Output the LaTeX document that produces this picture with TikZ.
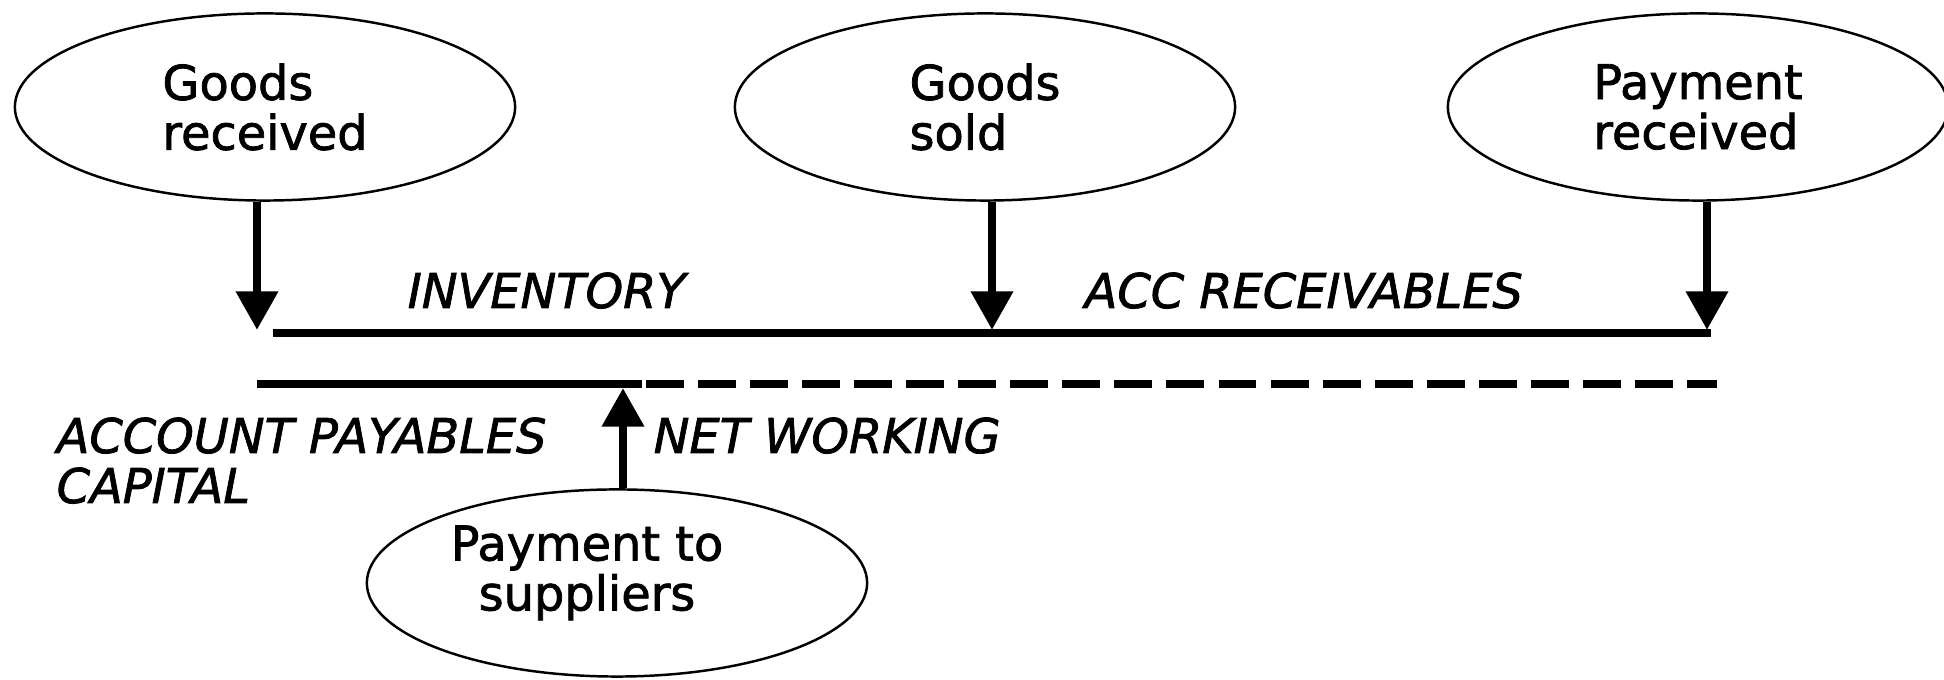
\documentclass[tikz,border=0pt]{standalone}
\usepackage{fontspec}
\setmainfont{DejaVu Sans}[FakeBold=1.6]
\usetikzlibrary{arrows.meta,shapes.geometric}

\begin{document}
\begin{tikzpicture}[x=0.01cm,y=-0.01cm,
  font=\fontsize{13.6}{14.2}\selectfont,
  evt/.style={draw,ellipse,line width=.7pt,minimum width=5cm,minimum height=1.87cm,inner sep=0pt,align=left},
  flow/.style={line width=2.5pt,-{Triangle[length=11pt,width=11.5pt]}},
  acct/.style={font=\fontsize{13.6}{14.2}\selectfont\itshape,inner sep=0pt,anchor=base west}]
  \useasboundingbox (0,0) rectangle (1944,680);
  \node[evt] (gr) at (265,107) {Goods\\received};
  \node[evt] (gs) at (985,107) {Goods\\sold};
  \node[evt] (pr) at (1698,107) {Payment\\received};
  \node[evt] (ps) at (617,583) {};
  \node[align=center,inner sep=0pt] (pst) at (587,573) {Payment to\\suppliers};
  \coordinate (k1) at (257,330);
  \coordinate (k2) at (992,330);
  \coordinate (k3) at (1707,330);
  \coordinate (k4) at (623,388);
  \draw[line width=2pt] (273,333) coordinate (t0) -- (1711,333) coordinate (t1);
  \draw[line width=2pt] (257,384) coordinate (b0) -- (642,384) coordinate (b1);
  \draw[line width=2pt,dash pattern=on 10.8pt off 4pt] (646,384) coordinate (b2) -- (1717,384) coordinate (b3);
  \draw[flow] (gr.south -| k1) -- (k1);
  \draw[flow] (gs.south -| k2) -- (k2);
  \draw[flow] (pr.south -| k3) -- (k3);
  \draw[flow] (ps.north -| k4) -- (k4);
  \node[acct] (inv) at (407,308) {INVENTORY};
  \node[acct] (ar) at (1084,308) {ACC RECEIVABLES};
  \node[acct] (ap) at (56,453) {ACCOUNT PAYABLES};
  \node[acct] (cap) at (56,503) {CAPITAL};
  \node[acct] (nwc) at (653,453) {NET WORKING};
\end{tikzpicture}
\end{document}
